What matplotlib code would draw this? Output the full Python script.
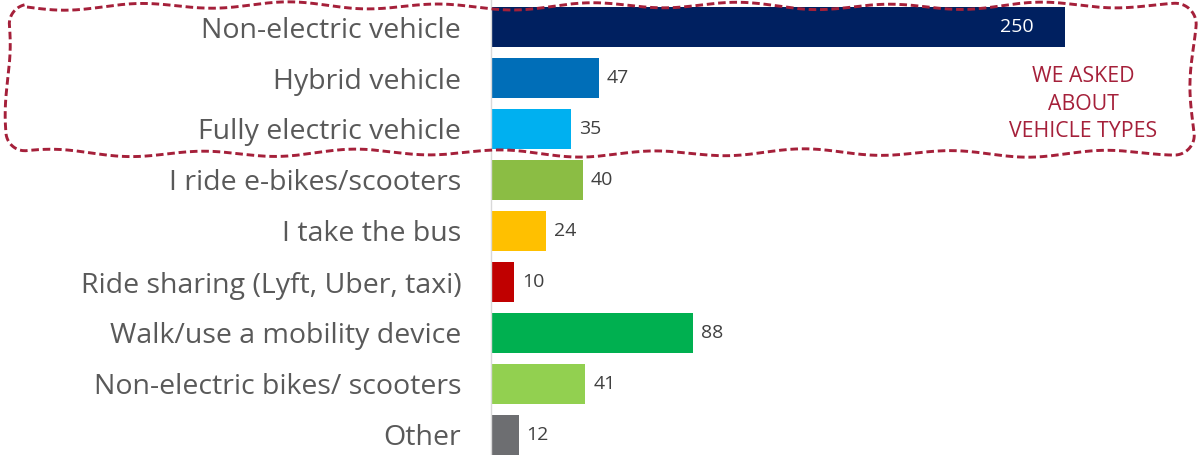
import numpy as np
import matplotlib.pyplot as plt

categories = ["Non-electric vehicle", "Hybrid vehicle", "Fully electric vehicle",
              "I ride e-bikes/scooters", "I take the bus", "Ride sharing (Lyft, Uber, taxi)",
              "Walk/use a mobility device", "Non-electric bikes/ scooters", "Other"]
values = [250, 47, 35, 40, 24, 10, 88, 41, 12]
colors = ["#002060", "#006EB8", "#00B0F0", "#8BBD44", "#FFC000",
          "#C00000", "#00B050", "#92D050", "#6D6E71"]
note = "WE ASKED\nABOUT\nVEHICLE TYPES"

plt.rcParams['font.family'] = ['Open Sans', 'DejaVu Sans']
red = "#A5203A"

fig = plt.figure(figsize=(11.99, 4.55), dpi=100)
ax = fig.add_axes([491 / 1199, 0, 1 - 491 / 1199, 1])

y = np.arange(len(categories))
ax.barh(y, values, height=0.79, color=colors)
ax.set_ylim(8 + 20 / 51, -27 / 51)
ax.set_xlim(0, 708 / 2.296)

ax.set_yticks(y)
ax.set_yticklabels(categories, fontsize=20.5, color="#595959")
ax.tick_params(axis='y', length=0, pad=21.5)
ax.set_xticks([])
for s in ["top", "right", "bottom"]:
    ax.spines[s].set_visible(False)
ax.spines["left"].set_color("#D9D9D9")
ax.spines["left"].set_linewidth(1.0)

for i, v in enumerate(values):
    if v > 200:
        ax.text(v - 13.5, i, str(v), ha="right", va="center", fontsize=14, color="white")
    else:
        ax.text(v + 3.5, i, str(v), ha="left", va="center", fontsize=14, color="#404040")

# overlay in pixel coords for the callout
ov = fig.add_axes([0, 0, 1, 1], facecolor="none")
ov.set_xlim(0, 1199)
ov.set_ylim(455, 0)
ov.axis("off")

ov.text(1083, 104, note, ha="center", va="center", fontsize=15.3, color=red,
        linespacing=1.42)

# wavy rounded rectangle
x0, x1, y0, y1, r = 7, 1194, 6, 153, 20
def seg(p, q, n):
    t = np.linspace(0, 1, n, endpoint=False)
    return np.column_stack([p[0] + (q[0] - p[0]) * t, p[1] + (q[1] - p[1]) * t])
def arc(cx, cy, a0, a1, n=20):
    a = np.linspace(a0, a1, n, endpoint=False)
    return np.column_stack([cx + r * np.cos(a), cy + r * np.sin(a)])
path = np.vstack([
    seg((x0 + r, y0), (x1 - r, y0), 400),
    arc(x1 - r, y0 + r, -np.pi / 2, 0),
    seg((x1, y0 + r), (x1, y1 - r), 60),
    arc(x1 - r, y1 - r, 0, np.pi / 2),
    seg((x1 - r, y1), (x0 + r, y1), 400),
    arc(x0 + r, y1 - r, np.pi / 2, np.pi),
    seg((x0, y1 - r), (x0, y0 + r), 60),
    arc(x0 + r, y0 + r, np.pi, 1.5 * np.pi),
])
path = np.vstack([path, path[:1]])
d = np.gradient(path, axis=0)
nrm = np.column_stack([-d[:, 1], d[:, 0]])
nrm /= np.linalg.norm(nrm, axis=1)[:, None] + 1e-9
s = np.concatenate([[0], np.cumsum(np.linalg.norm(np.diff(path, axis=0), axis=1))])
wob = 3.0 * np.sin(2 * np.pi * s / 150) + 1.2 * np.sin(2 * np.pi * s / 410 + 1.0)
path = path + nrm * wob[:, None]
ov.plot(path[:, 0], path[:, 1], color=red, lw=2.1, linestyle=(0, (2.6, 1.3)),
        solid_capstyle="butt", dash_capstyle="butt")

fig.savefig("out.png", dpi=100)
